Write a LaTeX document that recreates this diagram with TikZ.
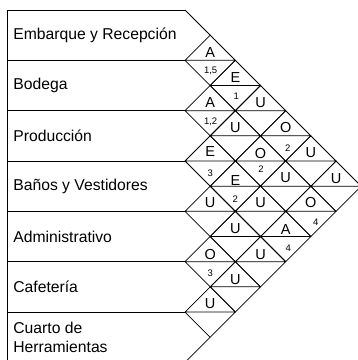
\documentclass[tikz,border=0pt]{standalone}
\usepackage{fontspec}
\setmainfont{Liberation Sans}
\begin{document}
\begin{tikzpicture}[x=1pt,y=-1pt,line width=0.75pt,
  lbl/.style={anchor=west,font=\fontsize{15.7}{19.5}\selectfont,inner sep=0pt,align=left},
  rel/.style={font=\fontsize{14.5}{15}\selectfont,inner sep=0pt},
  why/.style={font=\fontsize{9.5}{10}\selectfont,inner sep=0pt}]
\useasboundingbox (0,0) rectangle (358,360);
\clip (0,0) rectangle (358,360);
\def\s{25.17}
\def\xo{185}
\def\yo{10}
% label column
\draw (7,\yo) -- (7,370);
\foreach \k in {0,...,6} \draw (7,{\yo+2*\s*\k}) -- (\xo,{\yo+2*\s*\k});
\draw (\xo,\yo) -- ({\xo+\s},{\yo+\s});
\draw (\xo,{\yo+14*\s}) -- ({\xo+\s},{\yo+13*\s});
% diamonds
\foreach \i in {1,...,6} {
  \pgfmathtruncatemacro\ii{\i+1}
  \foreach \j in {\ii,...,7} {
    \pgfmathsetmacro\cx{\xo+\s*(\j-\i)}
    \pgfmathsetmacro\cy{\yo+\s*(\i+\j-1)}
    \draw ({\cx-\s},\cy) -- (\cx,{\cy-\s}) -- ({\cx+\s},\cy) -- (\cx,{\cy+\s}) -- cycle
          ({\cx-\s},\cy) -- ({\cx+\s},\cy);
  }
}
% department labels
\node[lbl] (d1) at (13,{\yo+1*\s}) {Embarque y Recepción};
\node[lbl] (d2) at (13,{\yo+3*\s}) {Bodega};
\node[lbl] (d3) at (13,{\yo+5*\s}) {Producción};
\node[lbl] (d4) at (13,{\yo+7*\s}) {Baños y Vestidores};
\node[lbl] (d5) at (13,{\yo+9*\s}) {Administrativo};
\node[lbl] (d6) at (13,{\yo+11*\s}) {Cafetería};
\node[lbl] (d7) at (13,{\yo+13*\s}) {Cuarto de\\Herramientas};
% relationships: i, j, letter, reason, letter dy, reason dx, reason dy
\newcommand\relcell[7]{%
  \pgfmathsetmacro\cx{185+25.17*(#2-#1)}%
  \pgfmathsetmacro\cy{10+25.17*(#1+#2-1)}%
  \node[rel] (r#1#2) at (\cx,{\cy+#5}) {#3};%
  \node[why] (w#1#2) at ({\cx+#6},{\cy+#7}) {#4};%
}
\relcell{1}{2}{A}{1,5}{-8}{0.5}{10}
\relcell{1}{3}{E}{1}{-8}{1}{10.5}
\relcell{1}{4}{U}{}{-8}{0}{11}
\relcell{1}{5}{O}{2}{-8}{2}{12}
\relcell{1}{6}{U}{}{-8}{0}{11}
\relcell{1}{7}{U}{}{-8}{0}{11}
\relcell{2}{3}{A}{1,2}{-8}{0.5}{11}
\relcell{2}{4}{U}{}{-8}{0}{11}
\relcell{2}{5}{O}{2}{-8}{0.5}{8.5}
\relcell{2}{6}{U}{}{-8.5}{0}{11}
\relcell{2}{7}{O}{4}{-8.5}{5}{10.5}
\relcell{3}{4}{E}{3}{-9.5}{0}{12}
\relcell{3}{5}{E}{2}{-5.5}{0}{13}
\relcell{3}{6}{U}{}{-8.5}{0}{11}
\relcell{3}{7}{A}{4}{-7.5}{2.5}{11.5}
\relcell{4}{5}{U}{}{-8.5}{0}{11}
\relcell{4}{6}{U}{}{-7.5}{0}{11}
\relcell{4}{7}{U}{}{-7}{0}{11}
\relcell{5}{6}{O}{3}{-7}{0}{12}
\relcell{5}{7}{U}{}{-7.5}{0}{11}
\relcell{6}{7}{U}{}{-8.5}{0}{11}
\end{tikzpicture}
\end{document}
